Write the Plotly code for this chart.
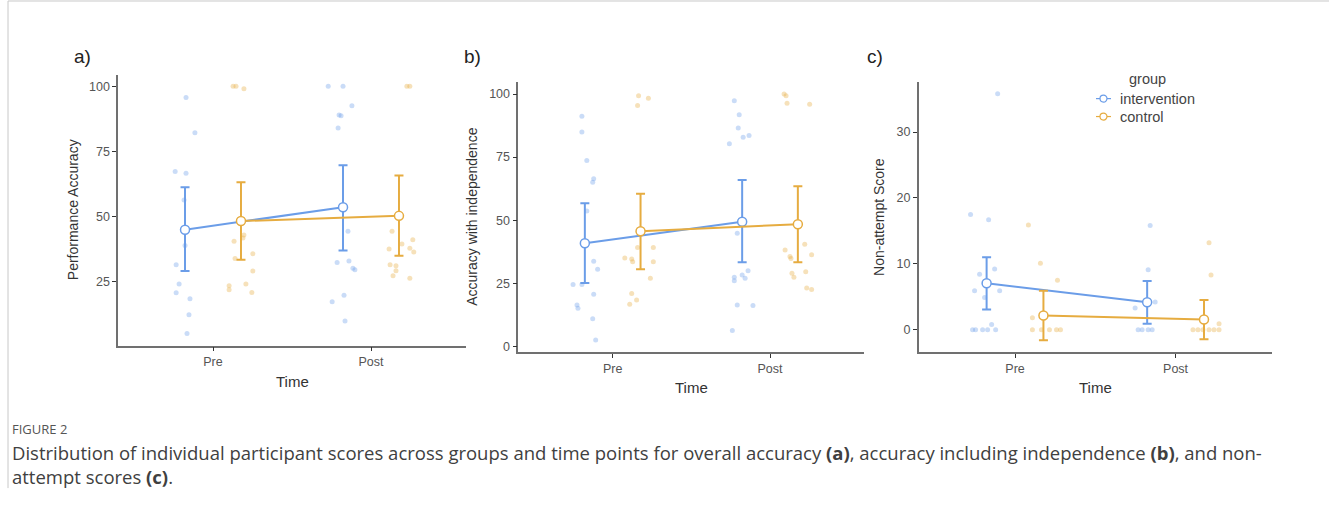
import plotly.graph_objects as go

W, H = 1329, 511
BLUE = "#6B9DE8"
ORANGE = "#E6AC40"
BLUE_PT = "rgba(107,157,232,0.36)"
ORANGE_PT = "rgba(230,172,64,0.36)"

times = ["Pre", "Post"]
groups = ["intervention", "control"]

# ---- panel a: Performance Accuracy ----
a_int_pre = [95.7, 82.2, 67.3, 66.6, 56.4, 38.9, 31.6, 24.2, 20.8, 18.5, 12.4, 5.2]
a_int_pre_jit = [1, 10, -10, 1, -1, 0, -9, -6, -9, 5, 4, 2]
a_con_pre = [100, 100, 99, 43, 41.8, 40.6, 35.8, 34, 29.2, 24.2, 23.5, 22, 20.9]
a_con_pre_jit = [-8, -5, 3, 3, 2, -7, 12, -6, 12, 5, -12, -12, 11]
a_int_post = [100, 100, 92.5, 89, 88.7, 84, 44.4, 33, 32.4, 30.2, 29.6, 19.9, 17.4, 10]
a_int_post_jit = [-15, 0, 9, -4, -2, -5, 5, 6, -6, 10, 12, 1, -11, 2]
a_con_post = [100, 100, 44.4, 41.1, 39.5, 37.9, 37.6, 36.4, 31.6, 31.2, 29.3, 27.3, 26.4]
a_con_post_jit = [8, 11, -7, 14, 3, 11, -10, 15, -9, -3, -3, -6, 11]
a_int_mean = [45.0, 53.6]
a_int_lo = [29.2, 37.0]
a_int_hi = [61.3, 69.7]
a_con_mean = [48.3, 50.3]
a_con_lo = [33.5, 35.0]
a_con_hi = [63.2, 65.8]

# ---- panel b: Accuracy with independence ----
b_int_pre = [91.2, 85, 73.7, 66.4, 65, 53.6, 33.7, 30.6, 24.5, 24.5, 20.7, 16.4, 15.1, 10.9, 2.5]
b_int_pre_jit = [-3, -3, 2, 9, 8, 2, 9, 13, -12, -3, 9, -8, -7, 8, 11]
b_con_pre = [99.3, 98.3, 95.5, 39.2, 39.2, 35, 34.6, 33.5, 33.5, 27, 21, 18.4, 16.7]
b_con_pre_jit = [-2, 8, -3, -3, 13, -16, -9, -8, 13, 10, -9, -4, -11]
b_int_post = [97.3, 91.8, 86.5, 83.6, 82.9, 80.3, 44.8, 30, 28.3, 27.4, 27, 26, 16.4, 16.2, 6.3]
b_int_post_jit = [-8, -3, -4, 7, 1, -13, -5, 6, 0, -8, 3, -8, -5, 11, -10]
b_con_post = [100, 99.3, 96.4, 96, 40.5, 38.2, 36.3, 35.6, 34.8, 29.6, 29, 27.4, 23.1, 22.5]
b_con_post_jit = [-14, -12, -11, 12, 7, -13, 14, -8, -7, 8, -6, -4, 9, 14]
b_int_mean = [40.9, 49.4]
b_int_lo = [25.1, 33.3]
b_int_hi = [56.7, 65.9]
b_con_mean = [45.6, 48.4]
b_con_lo = [30.6, 33.3]
b_con_hi = [60.5, 63.5]

# ---- panel c: Non-attempt Score ----
c_int_pre = [35.8, 17.5, 16.7, 9.2, 8.4, 5.9, 5.9, 4.9, 0.8, 0, 0, 0, 0, 0]
c_int_pre_jit = [11, -16, 2, 8, -7, -12, 13, -2, 5, -14, -4, 1, 9, -11]
c_con_pre = [15.9, 10.1, 7.5, 1.8, 0, 0, 0, 0, 0]
c_con_pre_jit = [-15, -3, 14, -11, -11, -2, 6, 13, 17]
c_int_post = [15.8, 9.1, 4.2, 3.3, 0, 0, 0, 0]
c_int_post_jit = [3, 1, 8, -12, -9, -5, 1, 5]
c_con_post = [13.2, 8.3, 0.9, 0, 0, 0, 0, 0, 0]
c_con_post_jit = [5, 7, 15, -11, -6, -1, 5, 10, 15]
c_int_mean = [7.05, 4.18]
c_int_lo = [3.07, 0.9]
c_int_hi = [11.0, 7.4]
c_con_mean = [2.16, 1.56]
c_con_lo = [-1.6, -1.46]
c_con_hi = [5.9, 4.5]

DODGE = 0.177
JIT_UNIT = 1 / 160.0

panels = [
    dict(ax="", pts=[(a_int_pre, a_int_pre_jit, 0, 0), (a_con_pre, a_con_pre_jit, 0, 1),
                     (a_int_post, a_int_post_jit, 1, 0), (a_con_post, a_con_post_jit, 1, 1)],
         means=[(a_int_mean, a_int_lo, a_int_hi), (a_con_mean, a_con_lo, a_con_hi)],
         xdom=(118.2, 465.8), ytop=75, ybot=347, yr=(0.55, 104.4),
         ytick=[25, 50, 75, 100], ytitle="Performance Accuracy", ytx=73, label="a)", lx=72, ly=57),
    dict(ax="2", pts=[(b_int_pre, b_int_pre_jit, 0, 0), (b_con_pre, b_con_pre_jit, 0, 1),
                      (b_int_post, b_int_post_jit, 1, 0), (b_con_post, b_con_post_jit, 1, 1)],
         means=[(b_int_mean, b_int_lo, b_int_hi), (b_con_mean, b_con_lo, b_con_hi)],
         xdom=(518.3, 864.4), ytop=82, ybot=353.3, yr=(-2.2, 104.9),
         ytick=[0, 25, 50, 75, 100], ytitle="Accuracy with independence", ytx=472, label="b)", lx=462, ly=57),
    dict(ax="3", pts=[(c_int_pre, c_int_pre_jit, 0, 0), (c_con_pre, c_con_pre_jit, 0, 1),
                      (c_int_post, c_int_post_jit, 1, 0), (c_con_post, c_con_post_jit, 1, 1)],
         means=[(c_int_mean, c_int_lo, c_int_hi), (c_con_mean, c_con_lo, c_con_hi)],
         xdom=(918.7, 1271.9), ytop=82.3, ybot=353.3, yr=(-3.37, 37.6),
         ytick=[0, 10, 20, 30], ytitle="Non-attempt Score", ytx=879, label="c)", lx=865, ly=57),
]

fig = go.Figure()
layout = dict(width=W, height=H, margin=dict(l=0, r=0, t=0, b=0),
              paper_bgcolor="white", plot_bgcolor="white",
              font=dict(family="Liberation Sans, Arial, sans-serif", color="#333"),
              showlegend=False)
annotations = []
AXCOL = "#707070"
TXT = dict(xref="paper", yref="paper", showarrow=False, yanchor="middle")

for p in panels:
    ax = p["ax"]
    xa, ya = "x" + ax, "y" + ax
    pcol = [BLUE_PT, ORANGE_PT]
    for vals, jit, ti, gi in p["pts"]:
        off = -DODGE if gi == 0 else DODGE
        xs = [ti + 1 + off + j * JIT_UNIT for j in jit]
        fig.add_trace(go.Scatter(x=xs, y=vals, mode="markers", xaxis=xa, yaxis=ya,
                                 marker=dict(size=5, color=pcol[gi]), hoverinfo="skip"))
    for gi, (m, lo, hi) in enumerate(p["means"]):
        col = BLUE if gi == 0 else ORANGE
        off = -DODGE if gi == 0 else DODGE
        xs = [i + 1 + off for i in range(len(times))]
        fig.add_trace(go.Scatter(
            x=xs, y=m, mode="lines+markers", xaxis=xa, yaxis=ya, name=groups[gi],
            line=dict(color=col, width=2),
            marker=dict(size=9, color="white", line=dict(color=col, width=1.5)),
            error_y=dict(type="data", symmetric=False,
                         array=[h - v for h, v in zip(hi, m)],
                         arrayminus=[v - l for v, l in zip(m, lo)],
                         color=col, thickness=2, width=4.5)))
    x0, x1 = p["xdom"]
    layout["xaxis" + ax] = dict(domain=[x0 / W, x1 / W], range=[0.4, 2.6], anchor=ya,
                                tickvals=[1, 2], ticktext=times, showline=True, linecolor=AXCOL,
                                linewidth=1.6, ticks="outside", ticklen=4, tickcolor="#333",
                                tickfont=dict(size=12.5, color="#555"), showgrid=False, zeroline=False)
    layout["yaxis" + ax] = dict(domain=[1 - p["ybot"] / H, 1 - p["ytop"] / H], range=list(p["yr"]),
                                anchor=xa, tickvals=p["ytick"], showline=True, linecolor=AXCOL,
                                linewidth=1.6, ticks="outside", ticklen=4, tickcolor="#333",
                                tickfont=dict(size=12.5, color="#555"), showgrid=False, zeroline=False)
    annotations.append(dict(text=p["ytitle"], textangle=-90, x=p["ytx"] / W, xanchor="center",
                            y=1 - (p["ytop"] + p["ybot"]) / 2 / H,
                            font=dict(size=14, color="#333"), **TXT))
    annotations.append(dict(text="Time", x=(x0 + x1) / 2 / W, xanchor="center",
                            y=1 - (p["ybot"] + 36) / H, font=dict(size=15, color="#333"), **TXT))
    annotations.append(dict(text=p["label"], x=p["lx"] / W, y=1 - p["ly"] / H, xanchor="left",
                            font=dict(size=19, color="#222"), **TXT))

# legend (panel c), drawn as text + small symbols
leg_items = [(groups[0], BLUE, 99), (groups[1], ORANGE, 117)]
annotations.append(dict(text="group", x=1147 / W, xanchor="center", y=1 - 79 / H,
                        font=dict(size=14.5, color="#444"), **TXT))
shapes = []
for name, col, yy in leg_items:
    annotations.append(dict(text=name, x=1118 / W, xanchor="left", y=1 - yy / H,
                            font=dict(size=14.5, color="#444"), **TXT))
    shapes.append(dict(type="line", xref="paper", yref="paper", x0=1096 / W, x1=1111 / W,
                       y0=1 - yy / H, y1=1 - yy / H, line=dict(color=col, width=1.2)))
    shapes.append(dict(type="circle", xref="paper", yref="paper", x0=1100 / W, x1=1107 / W,
                       y0=1 - (yy + 3.5) / H, y1=1 - (yy - 3.5) / H, fillcolor="white",
                       line=dict(color=col, width=1.2)))

annotations.append(dict(text="FIGURE 2", x=10 / W, xanchor="left", y=1 - 431 / H,
                        font=dict(family="Open Sans, sans-serif", size=13, color="#555"), **TXT))
annotations.append(dict(
    text="Distribution of individual participant scores across groups and time points for overall accuracy <b>(a)</b>, "
         "accuracy including independence <b>(b)</b>, and non-<br>attempt scores <b>(c)</b>.",
    x=10 / W, xanchor="left", y=1 - 466 / H, align="left",
    font=dict(family="Open Sans, sans-serif", size=18.5, color="#404040"), **TXT))

shapes += [
    dict(type="line", xref="paper", yref="paper", x0=8 / W, x1=1, y0=1 - 1 / H, y1=1 - 1 / H,
         line=dict(color="#c8c8c8", width=1)),
    dict(type="line", xref="paper", yref="paper", x0=8 / W, x1=8 / W, y0=1 - 1 / H, y1=1 - 490 / H,
         line=dict(color="#c8c8c8", width=1)),
]
layout["annotations"] = annotations
layout["shapes"] = shapes
fig.update_layout(**layout)
fig.write_html("out.html", config={"displayModeBar": False},
               post_script="document.body.style.margin='0';document.body.style.overflow='hidden';")
